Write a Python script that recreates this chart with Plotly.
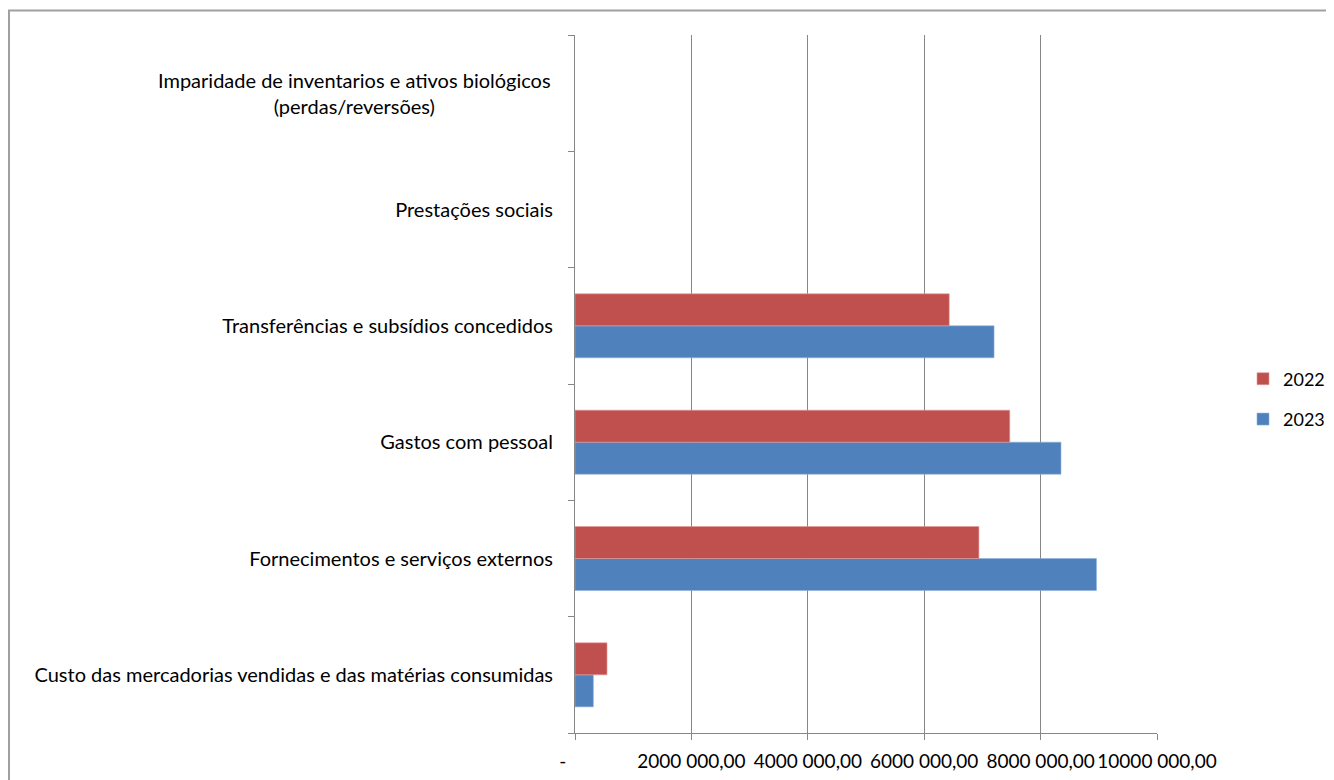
import plotly.graph_objects as go

categories = [
    "Custo das mercadorias vendidas e das matérias consumidas",
    "Fornecimentos e serviços externos",
    "Gastos com pessoal",
    "Transferências e subsídios concedidos",
    "Prestações sociais",
    "Imparidade de inventarios e ativos biológicos (perdas/reversões)",
]
tick_labels = [
    "Custo das mercadorias vendidas e das matérias consumidas",
    "Fornecimentos e serviços externos",
    "Gastos com pessoal",
    "Transferências e subsídios concedidos",
    "Prestações sociais",
    "",
]
multiline_label = "Imparidade de inventarios e ativos biológicos<br>(perdas/reversões)"
values_2023 = [315000, 8960000, 8350000, 7200000, None, None]
values_2022 = [550000, 6940000, 7470000, 6430000, None, None]
x_tickvals = [0, 2000000, 4000000, 6000000, 8000000, 10000000]
x_ticktext = ["-\u00a0\u00a0\u00a0\u00a0\u00a0", "2000 000,00", "4000 000,00", "6000 000,00", "8000 000,00", "10000 000,00"]

FONT = "Lato"
FS = 20
GREY = "#868686"

fig = go.Figure()
fig.add_trace(go.Bar(y=categories, x=values_2023, name="2023", orientation="h",
                     marker=dict(color="#4F81BD", line=dict(color="#8fb0dc", width=0.6)),
                     legendrank=2, legendgroup="g2023"))
fig.add_trace(go.Bar(y=categories, x=values_2022, name="2022", orientation="h",
                     marker=dict(color="#C0504D", line=dict(color="#e09a98", width=0.6)),
                     legendrank=1, legendgroup="g2022"))

# page body has an 8px margin: figure coordinates = screen - 8
OFF = 8
W, H = 1334 - OFF, 780 - OFF
L = 575 - OFF
T = 35 - OFF
R = W - (1157 - OFF)
B = H - (733 - OFF)
pw, ph = W - L - R, H - T - B

fig.update_layout(
    width=W, height=H,
    margin=dict(l=L, r=R, t=T, b=B, pad=0, autoexpand=False),
    paper_bgcolor="white", plot_bgcolor="white",
    barmode="group", bargap=0.45, bargroupgap=0,
    font=dict(family=FONT, size=FS, color="black"),
    showlegend=True,
    legend=dict(traceorder="grouped", tracegroupgap=14,
                x=(1243 - 575) / pw, xanchor="left", y=(733 - 399) / ph, yanchor="middle",
                font=dict(family=FONT, size=18), bgcolor="rgba(0,0,0,0)"),
    xaxis=dict(range=[0, 10000000], tickvals=x_tickvals, ticktext=x_ticktext,
               tickangle=0, automargin=False, tickfont=dict(size=19),
               showgrid=True, gridcolor=GREY, gridwidth=1,
               showline=True, linecolor=GREY, linewidth=1,
               ticks="outside", ticklen=6, tickcolor=GREY,
               ticklabelstandoff=5, zeroline=False, fixedrange=True),
    yaxis=dict(type="category", categoryorder="array", categoryarray=categories,
               tickvals=categories, ticktext=tick_labels, automargin=False,
               showgrid=False, showline=True, linecolor=GREY, linewidth=1,
               ticks="outside", ticklen=6, tickcolor=GREY, tickson="boundaries",
               ticklabelstandoff=17, fixedrange=True),
)

fig.add_annotation(x=(553 - 575) / pw, xref="paper", y=categories[5], yref="y",
                   text=multiline_label, showarrow=False, xanchor="right",
                   align="center", font=dict(family=FONT, size=FS, color="black"))

fig.add_shape(type="rect", xref="paper", yref="paper",
              x0=(1 - L) / pw, x1=(W + 10 - L) / pw,
              y0=-(B + 20) / ph, y1=1 + (T - 2.5) / ph,
              line=dict(color="#a0a0a0", width=2), fillcolor="rgba(0,0,0,0)", layer="below")

fig.write_html("out.html")
